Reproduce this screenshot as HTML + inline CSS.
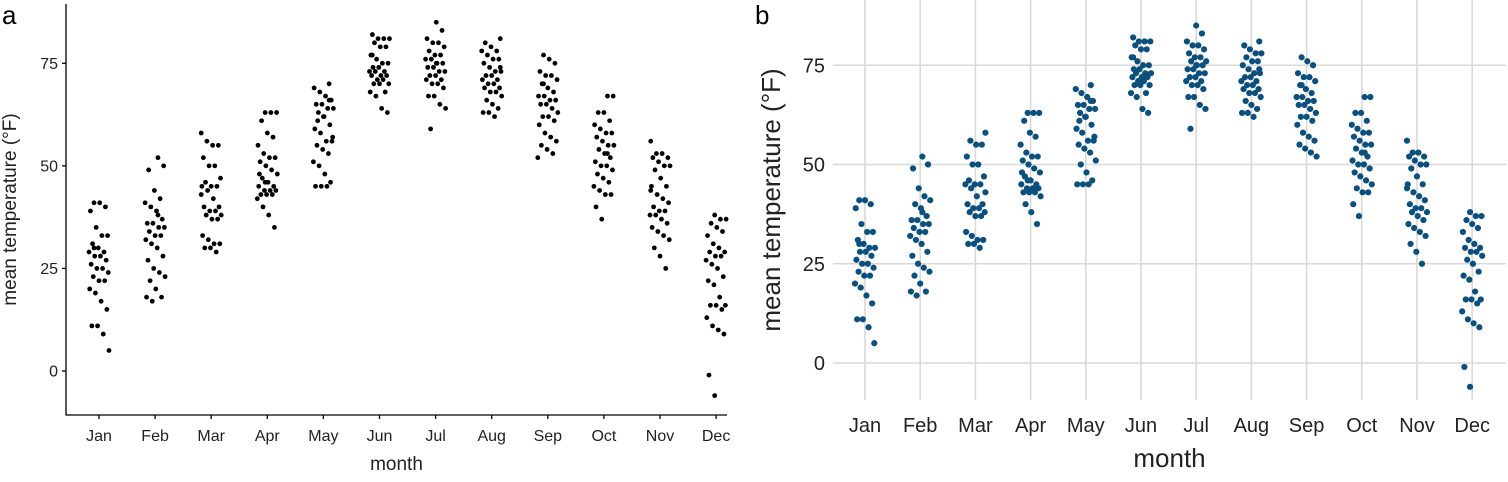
<!DOCTYPE html>
<html><head><meta charset="utf-8">
<style>
body{margin:0;background:#fff;}
svg{display:block;font-family:"Liberation Sans","DejaVu Sans",sans-serif;}
</style></head>
<body>
<svg id="chart" width="1508" height="482" viewBox="0 0 1508 482">
<g id="pa"></g>
<g id="pb"></g>
</svg>
<script>
const months = ["Jan","Feb","Mar","Apr","May","Jun","Jul","Aug","Sep","Oct","Nov","Dec"];
const yTicks = [0,25,50,75];
const temps = [
 [41,41,40,39,35,33,33,31,30,29,29,28,28,27,26,25,25,24,23,22,22,20,19,17,15,11,11,9,5,30],
 [52,50,49,44,42,41,40,39,37,36,36,35,35,34,33,33,32,31,30,28,27,25,24,23,22,20,18,18,17,38],
 [58,56,55,55,52,50,50,47,46,45,45,45,44,42,40,40,39,39,38,38,37,37,33,32,31,31,30,30,29,43],
 [63,63,63,61,58,57,55,53,52,52,51,50,49,48,47,46,45,45,44,44,44,43,43,43,42,40,38,35,48,46],
 [70,69,68,67,66,65,65,64,64,63,62,60,59,58,56,56,55,54,53,51,50,48,46,45,45,45,57,61,62,66],
 [82,81,81,81,80,79,79,77,76,75,75,74,74,73,73,73,72,72,72,71,71,70,70,70,68,68,67,64,63,77],
 [85,83,81,80,80,79,78,77,77,76,76,75,75,74,74,73,73,72,72,71,71,70,70,69,67,67,65,64,59,75],
 [81,80,79,78,78,77,76,76,75,74,73,73,72,72,71,71,70,70,69,69,68,68,67,66,65,64,63,63,62,74],
 [77,76,75,73,72,72,71,70,69,68,67,67,66,66,65,65,64,63,62,62,61,60,58,57,56,55,54,53,52,70],
 [67,67,63,63,61,60,59,58,58,57,56,55,55,54,53,52,51,50,50,49,48,47,46,45,44,43,43,40,37,53],
 [56,53,53,52,52,51,50,50,49,47,45,45,43,42,41,40,39,39,38,38,37,36,35,34,33,32,30,28,25,44],
 [38,37,37,36,35,34,33,31,30,29,29,28,28,27,26,25,23,22,21,18,16,16,16,15,13,11,10,9,-1,-6]
];
const NS="http://www.w3.org/2000/svg";
function mk(parent,tag,attrs,text){const e=document.createElementNS(NS,tag);for(const k in attrs)e.setAttribute(k,attrs[k]);if(text!==undefined)e.textContent=text;parent.appendChild(e);return e;}
function jit(i,m,seed){return (((i*37+m*11+seed*7)%29)/28-0.5);}

function panel(g,cfg){
  const ys=v=>cfg.y0-v*cfg.ky;
  const xs=m=>cfg.x0+m*cfg.dx;
  if(cfg.grid){
    yTicks.forEach(t=>{const l=mk(g,'line',{x1:cfg.left,x2:cfg.right,y1:ys(t),y2:ys(t),stroke:'#d9d9d9','stroke-width':1.6});
      });
    months.forEach((m,i)=>{const l=mk(g,'line',{x1:xs(i),x2:xs(i),y1:cfg.top,y2:cfg.bottom,stroke:'#d9d9d9','stroke-width':1.6});
      });
  } else {
    const ax=mk(g,'path',{d:`M${cfg.left},${cfg.top}V${cfg.bottom}H${cfg.right}`,fill:'none',stroke:'#000','stroke-width':1.3});
    
    yTicks.forEach(t=>{const l=mk(g,'line',{x1:cfg.left-4,x2:cfg.left,y1:ys(t),y2:ys(t),stroke:'#000','stroke-width':1.3});
      });
    months.forEach((m,i)=>{const l=mk(g,'line',{x1:xs(i),x2:xs(i),y1:cfg.bottom,y2:cfg.bottom+4,stroke:'#000','stroke-width':1.3});
      });
  }
  yTicks.forEach(t=>{const e=mk(g,'text',{x:cfg.left-cfg.ylabOff,y:ys(t)+cfg.tfs*0.35,'text-anchor':'end','font-size':cfg.tfs,fill:'#222'},t);
    });
  months.forEach((m,i)=>{const e=mk(g,'text',{x:xs(i),y:cfg.xlabY,'text-anchor':'middle','font-size':cfg.tfs,fill:'#222'},m);
    });
  temps.forEach((arr,m)=>arr.forEach((v,i)=>{
    const c=mk(g,'circle',{cx:xs(m)+jit(i,m,cfg.seed)*cfg.jw,cy:ys(v),r:cfg.r,fill:cfg.col});
    
  }));
  const xt=mk(g,'text',{x:(cfg.left+cfg.right)/2,y:cfg.xtY,'text-anchor':'middle','font-size':cfg.afs,fill:'#222'},'month');
  
  const yt=mk(g,'text',{x:0,y:0,transform:`translate(${cfg.ytX},${(cfg.top+cfg.bottom)/2}) rotate(-90)`,'text-anchor':'middle','font-size':cfg.afs,fill:'#222'},'mean temperature (°F)');
  
  const pl=mk(g,'text',{x:cfg.tagX,y:24,'font-size':26,fill:'#000'},cfg.tag);
  
}
panel(document.getElementById('pa'),{y0:371,ky:4.103,x0:99,dx:56.1,left:66,right:727,top:4,bottom:415,
  grid:false,tfs:16,afs:19,ylabOff:8,xlabY:441,xtY:470,ytX:16,r:2.4,col:'#000',jw:20,seed:1,tag:'a',tagX:2});
panel(document.getElementById('pb'),{y0:363,ky:3.97,x0:865,dx:55.2,left:833,right:1506,top:0,bottom:400,
  grid:true,tfs:20,afs:26,ylabOff:8,xlabY:432,xtY:467,ytX:780,r:3.1,col:'#0b4f7d',jw:20,seed:5,tag:'b',tagX:755});
</script>
</body></html>
